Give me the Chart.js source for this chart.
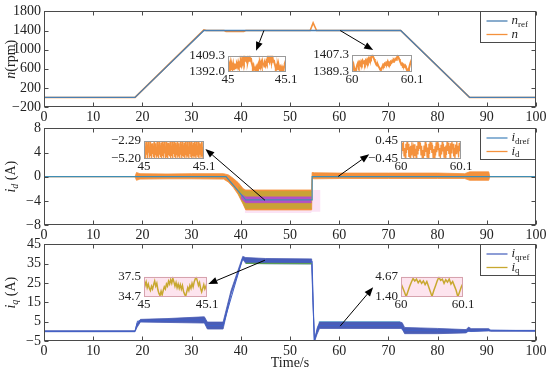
<!DOCTYPE html>
<html><head><meta charset="utf-8">
<script src="https://cdn.jsdelivr.net/npm/chart.js@4.4.0/dist/chart.umd.min.js"></script>
<style>
html,body{margin:0;padding:0;background:#fff}
#wrap{position:relative;width:550px;height:373px;overflow:hidden;background:#fff}
canvas{position:absolute}
</style></head>
<body><div id="wrap">
<canvas id="c1" width="550" height="125" style="left:0;top:0"></canvas>
<canvas id="c2" width="550" height="126" style="left:0;top:117px"></canvas>
<canvas id="c3" width="550" height="140" style="left:0;top:233px"></canvas>
<canvas id="i11" width="114" height="43" style="left:184px;top:45px"></canvas>
<canvas id="i12" width="116" height="44" style="left:308px;top:44px"></canvas>
<canvas id="i21" width="116" height="45" style="left:100px;top:130px"></canvas>
<canvas id="i22" width="116" height="45" style="left:357px;top:130px"></canvas>
<canvas id="i31" width="119" height="47" style="left:100px;top:266px"></canvas>
<canvas id="i32" width="118" height="47" style="left:357px;top:266px"></canvas>
</div>
<script>
const FONT = '"Liberation Serif","Times New Roman",serif';

// ---------- axis ticks ----------
const xTicks = [0,10,20,30,40,50,60,70,80,90,100];
const yTicks1 = [-200,200,600,1000,1400,1800];
const yTicks2 = [-8,-4,0,4,8];
const yTicks3 = [-5,5,15,25,35,45];

// ---------- panel 1 : speed ----------
const nRefT = [0, 18.5, 32.5, 72.5, 86.5, 100];
const nRefV = [0, 0, 1400, 1400, 0, 0];
const nT = [0, 18.5, 32.5, 33.0, 36.6, 37.0, 40.6, 41.0, 54.1, 54.7, 55.4, 72.5, 86.5, 100];
const nV = [0, 0, 1412, 1400, 1400, 1382, 1382, 1400, 1400, 1560, 1400, 1400, 0, 0];

// ---------- panel 2 : d-axis current ----------
const idRefT = [0, 37, 41, 54.5, 54.5, 100];
const idRefV = [0, 0, -3.85, -3.85, 0, 0];
const idT = [0, 18.5, 18.8, 19.5, 25, 30, 36.5, 37.5, 38.5, 39.5, 40.5, 41, 54.4, 54.5, 55, 60, 70, 80, 85.5, 86.5, 88, 90.4, 90.6, 100];
const idUp = [0, 0, 0.7, 0.5, 0.45, 0.5, 0.5, 0.3, -0.3, -1.0, -2.0, -2.2, -2.2, 0.7, 0.65, 0.6, 0.6, 0.6, 0.5, 0.8, 0.8, 0.8, 0, 0];
const idLo = [0, 0, -0.6, -0.4, -0.35, -0.35, -0.4, -0.9, -1.8, -3.0, -4.6, -5.5, -5.5, -0.3, -0.35, -0.3, -0.3, -0.3, -0.3, -0.6, -0.6, -0.6, 0, 0];
const idOlT = [39.5, 40.5, 41, 54.4];
const idOlUp = [-1.6, -2.3, -2.45, -2.45];
const idOlLo = [-2.8, -4.4, -5.25, -5.25];
const idMgT = [40, 41, 54.4];
const idMgUp = [-2.9, -3.35, -3.35];
const idMgLo = [-3.6, -4.3, -4.3];
const idPkT = [40.8, 54.3, 54.4, 56.2];
const idPkUp = [-5.0, -5.0, -2.2, -2.2];
const idPkLo = [-6.0, -6.0, -5.8, -5.8];

// ---------- panel 3 : q-axis current ----------
const iqT = [0, 18.5, 18.9, 19.6, 25, 32.4, 32.6, 33.2, 36.4, 38, 40.4, 41, 45, 54.4, 54.7, 55.0, 55.5, 56, 72.4, 72.8, 73.3, 80, 85.8, 86.3, 86.8, 90.4, 90.8, 100];
const iqUp = [0.3, 0.3, 4, 6.2, 6.6, 7.5, 7.5, 4.8, 4.8, 21, 38.8, 38.2, 37.7, 37.5, 15, -4.5, 1.5, 4.8, 4.8, 4.5, 2.0, 1.5, 0.9, 2.2, 1.4, 1.4, 0.5, 0.5];
const iqLo = [-0.2, -0.2, 2, 4.8, 4.6, 4.3, 4.3, 1.2, 1.2, 19, 37.3, 35.2, 35.0, 34.9, 12, -5.2, -1.5, 1.5, 1.5, 1.2, -1.2, -1.2, -0.8, 0.2, -0.1, 0.2, 0, 0];
const iqRefT = [0, 18.5, 19, 32.5, 33, 36.4, 40.4, 41, 54.5, 54.9, 55.8, 72.5, 73, 86, 90.5, 100];
const iqRefV = [0, 0, 5.3, 6, 3, 3, 38, 36.3, 36.3, -5, 3, 3, 0.5, 0, 0.6, 0.3];
const iqGrT = [41, 54.4];
const iqGrV = [35.2, 35.0];
const iqCyT = [55.8, 72.4];
const iqCyUp = [5.3, 5.3];
const iqCyLo = [4.4, 4.4];

// ---------- zoom insets ----------
const ins11 = [1399,1396,1400,1397,1401,1395,1399,1396,1400,1394,1398,1396,1401,1397,1400,1398,1402,1399,1401,1398,
 1403,1400,1405,1402,1406,1403,1408,1404,1409,1405,1407,1403,1406,1404,1408,1405,1407,1402,1400,1397,
 1399,1395,1398,1393,1396,1392.5,1397,1394,1399,1396,1401,1398,1402,1399,1403,1400,1402,1398,1401,1399,
 1403,1401,1406,1403,1407,1404,1408,1405,1409,1404,1407,1403,1405,1401,1399,1396,1398,1395,1399,1396,
 1398,1395,1397,1394,1396,1392.5,1395,1393,1398,1401,1403,1400];
const ins12 = [1396,1394,1397,1393,1391,1390,1394,1397,1399,1396,1399,1397,1400,1398,1401,1399,1400,1398,1401,1399,
 1402,1400,1403,1401,1404,1403,1406,1407,1405,1403,1401,1399,1398,1396,1397,1395,1394,1392,1391,1393,
 1395,1397,1396,1398,1397,1399,1398,1400,1397,1399,1398,1400,1399,1401,1400,1402,1401,1403,1402,1404,
 1406,1405,1403,1401,1399,1397,1398,1396,1397,1395,1396,1394,1393,1391,1390,1393,1396,1399,1401,1399];
const ins21 = [-2.6,-4.8,-3.2,-5.1,-2.4,-4.5,-2.9,-5.15,-2.5,-4.2,-3.4,-5.0,-2.35,-4.7,-2.8,-5.1,-2.7,-4.4,-3.1,-4.9,
 -2.4,-5.15,-2.7,-4.6,-3.3,-5.0,-2.5,-4.8,-2.9,-5.1,-2.35,-4.5,-3.0,-4.9,-2.6,-5.15,-2.4,-4.7,-2.8,-5.0,
 -2.5,-4.3,-3.2,-5.1,-2.35,-4.9,-2.7,-5.15,-2.6,-4.6,-2.9,-4.8,-2.4,-5.05,-3.1,-4.7,-2.5,-5.1,-2.8,-4.4,
 -2.35,-4.9,-2.6,-5.15,-3.0,-4.6,-2.4,-5.0,-2.7,-4.8,-3.3,-5.1,-2.5,-4.5,-2.8,-5.15,-2.4,-4.7,-3.0,-4.9,
 -2.6,-5.1,-2.35,-4.6,-2.9,-5.0,-2.5,-4.8,-3.2,-5.15,-2.4,-4.4,-2.7,-4.9,-2.5,-5.15,-3.0,-4.7,-2.6,-5.0,
 -2.35,-4.8,-2.8,-5.1,-2.5,-4.6,-3.1,-4.9,-2.4,-5.15,-2.7,-4.5,-2.9,-5.0,-2.5,-4.8,-3.3,-5.1,-2.6,-4.7];
const ins22 = [0.25,-0.2,0.35,-0.05,0.4,-0.3,0.1,-0.42,0.3,-0.15,0.42,0.0,0.3,-0.35,0.15,-0.43,0.2,-0.25,0.38,-0.1,
 0.1,-0.4,0.28,-0.3,0.05,-0.43,0.2,-0.2,0.4,-0.05,0.43,0.05,0.35,-0.25,0.2,-0.38,0.0,-0.43,0.22,-0.3,
 0.4,-0.1,0.3,-0.35,0.12,-0.42,0.3,-0.2,0.43,0.0,0.36,-0.15,0.25,-0.4,0.05,-0.43,0.18,-0.28,0.38,-0.12,
 0.42,-0.02,0.32,-0.3,0.1,-0.4,0.25,-0.22,0.4,-0.08,0.3,-0.36,0.15,-0.43,0.22,-0.25,0.41,-0.05,0.35,-0.2,
 0.2,-0.4,0.33,-0.15,0.43,0.02,0.3,-0.32,0.1,-0.43,0.26,-0.18,0.4,-0.1,0.2,-0.38,0.34,-0.06,0.43,-0.25];
const ins31 = [37.1,36.3,36.8,36.0,36.5,35.9,35.6,36.2,35.8,36.4,36.9,36.2,36.6,35.7,35.2,34.9,35.5,35.0,35.6,36.1,
 35.8,36.5,36.2,36.9,36.5,37.1,36.6,37.3,36.8,36.2,36.7,36.0,36.5,35.9,36.4,35.8,36.3,35.5,35.1,34.8,
 35.4,36.0,35.6,36.3,35.9,36.6,36.1,36.8,37.2,37.4,36.9,36.3,36.7,35.9,35.4,35.9,36.4,35.8,36.2,36.6];
const ins32 = [3.6,2.9,2.2,1.45,2.3,3.1,3.8,4.4,4.0,4.3,3.7,4.1,3.6,4.0,3.4,3.9,3.1,2.3,1.5,2.4,
 3.2,4.0,4.62,4.1,4.3,3.6,4.2,3.8,4.3,3.5,3.9,3.2,2.5,1.45,2.2,3.0,3.6];

// ---------- arrows (data units: from t, from v, to t, to v) ----------
const arrows1 = [[44.7, 1400, 43.1, 975], [60.2, 1400, 66.9, 990]];
const arrows2 = [[44.9, -3.9, 32.8, 4.6], [59.8, 0.05, 66.1, 3.7]];
const arrows3 = [[44.9, 36.8, 33.4, 24.5], [60.2, 2.7, 66.9, 22.8]];

// ---------- helpers ----------
function pts(t, v){ return t.map((x,i)=>({x:x, y:v[i]})); }
function line(t, v, color, w, order, extra){
  return Object.assign({data:pts(t,v), borderColor:color, borderWidth:w, pointRadius:0, fill:false, order:order, tension:0}, extra||{});
}
function band(t, u, l, color, order, bw){
  return [line(t,u,color,bw==null?0.8:bw,order,{fill:'+1', backgroundColor:color}), line(t,l,color,bw==null?0.8:bw,order)];
}
const minus = v => (v<0 ? '\u2212'+Math.abs(v) : String(v));

function drawSegs(ctx, segs, x, y, size, measureOnly){
  let cx = x;
  for (const [t, st] of segs){
    const sub = st.indexOf('s')>=0, it = st.indexOf('i')>=0;
    const fs = sub ? Math.round(size*0.68) : size;
    ctx.font = (it?'italic ':'') + fs + 'px ' + FONT;
    if(!measureOnly) ctx.fillText(t, cx, y + (sub ? size*0.28 : 0));
    cx += ctx.measureText(t).width;
  }
  return cx - x;
}

const framePlugin = {
  id:'frame',
  afterDatasetsDraw(chart){
    const {ctx, chartArea:a, scales:{x,y}} = chart;
    ctx.save();
    ctx.strokeStyle = '#4a4a4a'; ctx.lineWidth = 1;
    const L = Math.round(a.left)+0.5, R = Math.round(a.right)-0.5, T = Math.round(a.top)+0.5, B = Math.round(a.bottom)-0.5;
    ctx.beginPath();
    x.ticks.forEach(tk=>{ const p = Math.round(x.getPixelForValue(tk.value))+0.5;
      ctx.moveTo(p,B); ctx.lineTo(p,B-4); ctx.moveTo(p,T); ctx.lineTo(p,T+4); });
    y.ticks.forEach(tk=>{ const p = Math.round(y.getPixelForValue(tk.value))+0.5;
      ctx.moveTo(L,p); ctx.lineTo(L+4,p); ctx.moveTo(R,p); ctx.lineTo(R-4,p); });
    ctx.stroke();
    ctx.strokeRect(L, T, R-L, B-T);
    ctx.restore();
  }
};
function arrowPlugin(arr){
  return { id:'arrows', afterDraw(chart){
    const {ctx, scales:{x,y}} = chart;
    ctx.save(); ctx.strokeStyle='#000'; ctx.fillStyle='#000'; ctx.lineWidth=1;
    for(const a of arr){
      const x1=x.getPixelForValue(a[0]), y1=y.getPixelForValue(a[1]), x2=x.getPixelForValue(a[2]), y2=y.getPixelForValue(a[3]);
      const ang=Math.atan2(y2-y1,x2-x1), Lh=9, W=3.5;
      const bx=x2-Lh*Math.cos(ang), by=y2-Lh*Math.sin(ang);
      ctx.beginPath(); ctx.moveTo(x1,y1); ctx.lineTo(bx,by); ctx.stroke();
      ctx.beginPath(); ctx.moveTo(x2,y2);
      ctx.lineTo(bx-W*Math.sin(ang), by+W*Math.cos(ang));
      ctx.lineTo(bx+W*Math.sin(ang), by-W*Math.cos(ang));
      ctx.closePath(); ctx.fill();
    }
    ctx.restore();
  }};
}
function legendPlugin(items){
  return { id:'lgd', afterDraw(chart){
    const {ctx, chartArea:a} = chart;
    const w=55, h=31, x0=Math.round(a.right)-w-0.5, y0=Math.round(a.top)+0.5;
    ctx.save();
    ctx.fillStyle='#fff'; ctx.fillRect(x0,y0,w,h);
    ctx.strokeStyle='#4a4a4a'; ctx.lineWidth=1; ctx.strokeRect(x0,y0,w,h);
    items.forEach((it,i)=>{
      const yy = y0 + 9.5 + i*13.5;
      ctx.strokeStyle=it.color; ctx.lineWidth=1.3;
      ctx.beginPath(); ctx.moveTo(x0+6,yy); ctx.lineTo(x0+27,yy); ctx.stroke();
      ctx.fillStyle='#222'; ctx.textBaseline='middle'; ctx.textAlign='left';
      drawSegs(ctx, it.segs, x0+31, yy, 13);
    });
    ctx.restore();
  }};
}
function ytitlePlugin(segs){
  return { id:'ytitle', afterDraw(chart){
    const {ctx, chartArea:a} = chart;
    ctx.save();
    ctx.translate(11, (a.top+a.bottom)/2);
    ctx.rotate(-Math.PI/2);
    ctx.fillStyle='#222'; ctx.textBaseline='middle'; ctx.textAlign='left';
    const w = drawSegs(ctx, segs, 0, 0, 14, true);
    drawSegs(ctx, segs, -w/2, 0, 14);
    ctx.restore();
  }};
}

function makeMain(id, o){
  return new Chart(document.getElementById(id), {
    type:'line',
    data:{datasets:o.datasets},
    options:{
      responsive:false, animation:false, devicePixelRatio:1,
      layout:{padding:{top:11, right:14, left:0, bottom:0}},
      plugins:{legend:{display:false}, tooltip:{enabled:false}},
      scales:{
        x:{type:'linear', min:0, max:100,
           afterBuildTicks:s=>{ s.ticks = xTicks.map(v=>({value:v})); },
           ticks:{autoSkip:false, maxRotation:0, padding:2, color:'#222', font:{family:FONT, size:14}},
           grid:{display:false, drawTicks:false}, border:{display:false},
           title: o.xTitle ? {display:true, text:o.xTitle, color:'#222', font:{family:FONT, size:14}, padding:{top:0,bottom:1}} : {display:false},
           afterFit:s=>{ s.height = o.xH; }},
        y:{type:'linear', min:o.ymin, max:o.ymax,
           afterBuildTicks:s=>{ s.ticks = o.yTicks.map(v=>({value:v})); },
           ticks:{autoSkip:false, padding:3, color:'#222', font:{family:FONT, size:14}, callback:v=>minus(v)},
           grid:{display:false, drawTicks:false}, border:{display:false},
           afterFit:s=>{ s.width = 44; }}
      }
    },
    plugins:[framePlugin, arrowPlugin(o.arrows), legendPlugin(o.legend), ytitlePlugin(o.ytitle)]
  });
}

function makeInset(id, vals, ymin, ymax, yLabels, xLabels, color, lw, bg, border){
  return new Chart(document.getElementById(id), {
    type:'line',
    data:{datasets:[{data:vals.map((v,i)=>({x:i,y:v})), borderColor:color, borderWidth:lw, pointRadius:0, fill:false, tension:0}]},
    options:{
      responsive:false, animation:false, devicePixelRatio:1,
      layout:{padding:{top:5, right:12, left:0, bottom:0}},
      plugins:{legend:{display:false}, tooltip:{enabled:false}},
      scales:{
        x:{type:'linear', min:0, max:vals.length-1,
           afterBuildTicks:s=>{ s.ticks=[{value:0},{value:vals.length-1}]; },
           ticks:{autoSkip:false, maxRotation:0, padding:0, color:'#222', font:{family:FONT, size:13}, callback:(v,i)=>xLabels[i]},
           grid:{display:false, drawTicks:false}, border:{display:false},
           afterFit:s=>{ s.height=16; }},
        y:{type:'linear', min:ymin, max:ymax,
           afterBuildTicks:s=>{ s.ticks=[{value:ymin},{value:ymax}]; },
           ticks:{autoSkip:false, padding:3, color:'#222', font:{family:FONT, size:13}, callback:(v,i)=>yLabels[i]},
           grid:{display:false, drawTicks:false}, border:{display:false},
           afterFit:s=>{ s.width=44; }}
      }
    },
    plugins:[{id:'ibox',
      beforeDatasetsDraw(chart){ const {ctx,chartArea:a}=chart; ctx.save(); ctx.fillStyle=bg; ctx.fillRect(a.left,a.top,a.right-a.left,a.bottom-a.top); ctx.restore(); },
      afterDatasetsDraw(chart){ const {ctx,chartArea:a}=chart; ctx.save(); ctx.strokeStyle=border; ctx.lineWidth=1;
        ctx.strokeRect(Math.round(a.left)+0.5, Math.round(a.top)+0.5, Math.round(a.right-a.left)-1, Math.round(a.bottom-a.top)-1); ctx.restore(); }
    }]
  });
}

// ---------- colours ----------
const BLUE1='#4a7fb2', ORANGE='#f4913c', OLIVE='#c9a236', MAGENTA='#b451c6', PINK='#fbe3f5', BLUE3='#4a5db6', GOLD='#c8a830', CYAN='#8fd3e3';

// ---------- panel 1 ----------
makeMain('c1', {
  ymin:-200, ymax:1800, yTicks:yTicks1, xH:18, arrows:arrows1,
  ytitle:[['n','i'],['(rpm)','']],
  legend:[{color:BLUE1, segs:[['n','i'],['ref','s']]},{color:ORANGE, segs:[['n','i']]}],
  datasets:[
    line(nRefT, nRefV, BLUE1, 1.3, 0),
    line(nT, nV, ORANGE, 1.6, 1)
  ]
});

// ---------- panel 2 ----------
makeMain('c2', {
  ymin:-8, ymax:8, yTicks:yTicks2, xH:18, arrows:arrows2,
  ytitle:[['i','i'],['d','is'],[' (A)','']],
  legend:[{color:'#4f8cc0', segs:[['i','i'],['dref','s']]},{color:ORANGE, segs:[['i','i'],['d','s']]}],
  datasets:[
    line(idRefT, idRefV, '#3f8db3', 1.2, 0),
    ...band(idMgT, idMgUp, idMgLo, MAGENTA, 1),
    ...band(idOlT, idOlUp, idOlLo, OLIVE, 2),
    ...band(idT, idUp, idLo, ORANGE, 3),
    ...band(idPkT, idPkUp, idPkLo, PINK, 4, 0)
  ]
});

// ---------- panel 3 ----------
makeMain('c3', {
  ymin:-5, ymax:45, yTicks:yTicks3, xH:32, xTitle:'Time/s', arrows:arrows3,
  ytitle:[['i','i'],['q','is'],[' (A)','']],
  legend:[{color:'#5068c0', segs:[['i','i'],['qref','s']]},{color:GOLD, segs:[['i','i'],['q','s']]}],
  datasets:[
    line(iqGrT, iqGrV, '#5a9e55', 1.2, 0),
    line(iqRefT, iqRefV, '#4060c8', 1, 1),
    ...band(iqT, iqUp, iqLo, BLUE3, 2),
    ...band(iqCyT, iqCyUp, iqCyLo, CYAN, 3, 0)
  ]
});

// ---------- insets ----------
makeInset('i11', ins11, 1392.0, 1409.3, ['1392.0','1409.3'], ['45','45.1'], ORANGE, 2.0, '#fff', '#9a9a9a');
makeInset('i12', ins12, 1389.3, 1407.3, ['1389.3','1407.3'], ['60','60.1'], ORANGE, 2.0, '#fff', '#9a9a9a');
makeInset('i21', ins21, -5.20, -2.29, ['\u22125.20','\u22122.29'], ['45','45.1'], ORANGE, 1.3, '#fff', '#9a9a9a');
makeInset('i22', ins22, -0.45, 0.45, ['\u22120.45','0.45'], ['60','60.1'], ORANGE, 1.3, '#fff', '#9a9a9a');
makeInset('i31', ins31, 34.7, 37.5, ['34.7','37.5'], ['45','45.1'], GOLD, 1.5, '#fde4ee', '#d6a3ae');
makeInset('i32', ins32, 1.40, 4.67, ['1.40','4.67'], ['60','60.1'], GOLD, 1.5, '#fde4ee', '#d6a3ae');
</script>
</body></html>
